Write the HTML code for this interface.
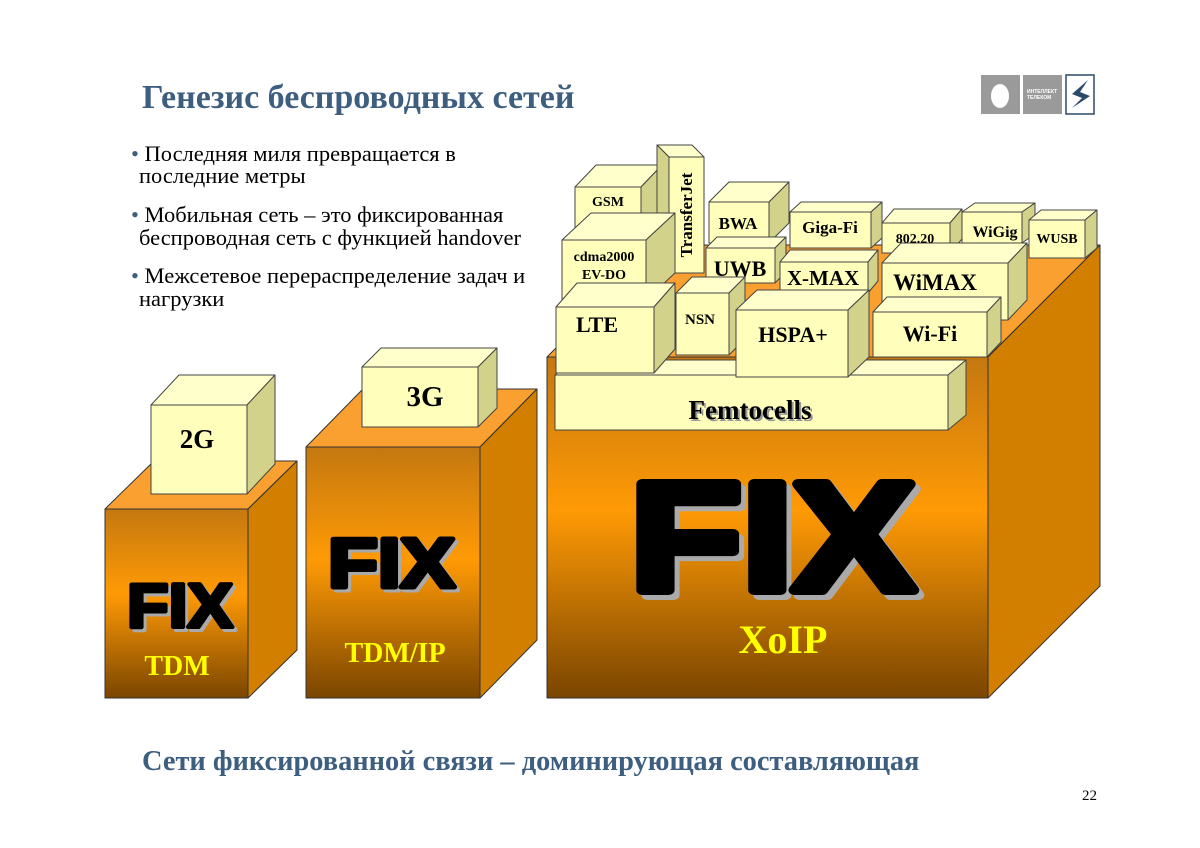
<!DOCTYPE html>
<html><head><meta charset="utf-8"><style>
html,body{margin:0;padding:0;background:#fff}
svg{display:block}
.t{font-family:"Liberation Serif",serif;font-weight:bold;fill:#000}
.fix{font-family:"Liberation Sans",sans-serif;font-weight:bold}
</style></head><body>
<svg width="1200" height="848" viewBox="0 0 1200 848" xmlns="http://www.w3.org/2000/svg">
<defs>
<linearGradient id="og" x1="0" y1="0" x2="0" y2="1">
<stop offset="0" stop-color="#c47810"/><stop offset="0.45" stop-color="#ff9a05"/><stop offset="1" stop-color="#7a4500"/>
</linearGradient>
</defs>
<g stroke="#333" stroke-width="1" stroke-linejoin="round">
<rect x="547" y="357" width="441" height="341" fill="url(#og)"/>
<polygon points="547,357 659,245 1100,245 988,357" fill="#f9a030"/>
<polygon points="988,357 1100,245 1100,586 988,698" fill="#d27f00"/>
<rect x="105" y="509" width="143" height="189" fill="url(#og)"/>
<polygon points="105,509 154,461 297,461 248,509" fill="#f9a030"/>
<polygon points="248,509 297,461 297,650 248,698" fill="#d27f00"/>
<rect x="306" y="447" width="174" height="251" fill="url(#og)"/>
<polygon points="306,447 363,389 537,389 480,447" fill="#f9a030"/>
<polygon points="480,447 537,389 537,640 480,698" fill="#d27f00"/>
</g>
<g stroke="#444" stroke-width="1" stroke-linejoin="round">
<rect x="151" y="405" width="96" height="89" fill="#ffffbb"/>
<polygon points="151,405 179,375 275,375 247,405" fill="#ffffcc"/>
<polygon points="247,405 275,375 275,464 247,494" fill="#d2d28a"/>
<rect x="362" y="367" width="116" height="60" fill="#ffffbb"/>
<polygon points="362,367 381,348 497,348 478,367" fill="#ffffcc"/>
<polygon points="478,367 497,348 497,408 478,427" fill="#d2d28a"/>
<rect x="555" y="375" width="393" height="55" fill="#ffffbb"/>
<polygon points="555,375 573,360 966,360 948,375" fill="#ffffcc"/>
<polygon points="948,375 966,360 966,415 948,430" fill="#d2d28a"/>
<rect x="575" y="187" width="66" height="43" fill="#ffffbb"/>
<polygon points="575,187 596,165 662,165 641,187" fill="#ffffcc"/>
<polygon points="641,187 662,165 662,208 641,230" fill="#d2d28a"/>
<rect x="669" y="157" width="35" height="116" fill="#ffffbb"/>
<polygon points="657,145 692,145 704,157 669,157" fill="#ffffcc"/>
<polygon points="657,145 669,157 669,273 657,261" fill="#d2d28a"/>
<rect x="709" y="202" width="60" height="41" fill="#ffffbb"/>
<polygon points="709,202 729,182 789,182 769,202" fill="#ffffcc"/>
<polygon points="769,202 789,182 789,223 769,243" fill="#d2d28a"/>
<rect x="790" y="212" width="81" height="36" fill="#ffffbb"/>
<polygon points="790,212 801,202 882,202 871,212" fill="#ffffcc"/>
<polygon points="871,212 882,202 882,238 871,248" fill="#d2d28a"/>
<rect x="882" y="223" width="68" height="30" fill="#ffffbb"/>
<polygon points="882,223 894,209 962,209 950,223" fill="#ffffcc"/>
<polygon points="950,223 962,209 962,239 950,253" fill="#d2d28a"/>
<rect x="962" y="212" width="60" height="31" fill="#ffffbb"/>
<polygon points="962,212 975,203 1035,203 1022,212" fill="#ffffcc"/>
<polygon points="1022,212 1035,203 1035,234 1022,243" fill="#d2d28a"/>
<rect x="1029" y="220" width="56" height="38" fill="#ffffbb"/>
<polygon points="1029,220 1041,210 1097,210 1085,220" fill="#ffffcc"/>
<polygon points="1085,220 1097,210 1097,248 1085,258" fill="#d2d28a"/>
<rect x="562" y="240" width="84" height="60" fill="#ffffbb"/>
<polygon points="562,240 591,213 675,213 646,240" fill="#ffffcc"/>
<polygon points="646,240 675,213 675,273 646,300" fill="#d2d28a"/>
<rect x="706" y="248" width="69" height="35" fill="#ffffbb"/>
<polygon points="706,248 717,237 786,237 775,248" fill="#ffffcc"/>
<polygon points="775,248 786,237 786,272 775,283" fill="#d2d28a"/>
<rect x="780" y="262" width="88" height="31" fill="#ffffbb"/>
<polygon points="780,262 790,250 878,250 868,262" fill="#ffffcc"/>
<polygon points="868,262 878,250 878,281 868,293" fill="#d2d28a"/>
<rect x="882" y="263" width="126" height="57" fill="#ffffbb"/>
<polygon points="882,263 901,243 1027,243 1008,263" fill="#ffffcc"/>
<polygon points="1008,263 1027,243 1027,300 1008,320" fill="#d2d28a"/>
<rect x="676" y="293" width="53" height="62" fill="#ffffbb"/>
<polygon points="676,293 692,277 745,277 729,293" fill="#ffffcc"/>
<polygon points="729,293 745,277 745,339 729,355" fill="#d2d28a"/>
<rect x="556" y="307" width="98" height="66" fill="#ffffbb"/>
<polygon points="556,307 577,283 675,283 654,307" fill="#ffffcc"/>
<polygon points="654,307 675,283 675,349 654,373" fill="#d2d28a"/>
<rect x="736" y="310" width="112" height="67" fill="#ffffbb"/>
<polygon points="736,310 757,290 869,290 848,310" fill="#ffffcc"/>
<polygon points="848,310 869,290 869,357 848,377" fill="#d2d28a"/>
<rect x="873" y="312" width="114" height="45" fill="#ffffbb"/>
<polygon points="873,312 887,297 1001,297 987,312" fill="#ffffcc"/>
<polygon points="987,312 1001,297 1001,342 987,357" fill="#d2d28a"/>
</g>
<g class="t" text-anchor="middle">
<text x="608" y="206" font-size="14">GSM</text>
<text transform="translate(692,215) rotate(-90)" font-size="17">TransferJet</text>
<text x="738" y="229" font-size="17">BWA</text>
<text x="830" y="233" font-size="17">Giga-Fi</text>
<text x="915" y="243" font-size="14">802.20</text>
<text x="995" y="237" font-size="16">WiGig</text>
<text x="1057" y="243" font-size="14">WUSB</text>
<text x="604" y="261" font-size="14">cdma2000</text>
<text x="604" y="279" font-size="14">EV-DO</text>
<text x="740" y="276" font-size="22">UWB</text>
<text x="823" y="285" font-size="21">X-MAX</text>
<text x="935" y="290" font-size="23">WiMAX</text>
<text x="700" y="324" font-size="15">NSN</text>
<text x="597" y="332" font-size="22">LTE</text>
<text x="793" y="342" font-size="22">HSPA+</text>
<text x="930" y="341" font-size="22">Wi-Fi</text>
<text x="752" y="421" font-size="27" fill="#999">Femtocells</text>
<text x="750" y="419" font-size="27">Femtocells</text>
<text x="197" y="448" font-size="27">2G</text>
<text x="425" y="406" font-size="29">3G</text>
</g>
<g class="fix" stroke-linejoin="round">
<text x="130" y="630" font-size="62" fill="#aaa" stroke="#aaa" stroke-width="4" textLength="106" lengthAdjust="spacingAndGlyphs">FIX</text>
<text x="127" y="627" font-size="62" fill="#000" stroke="#000" stroke-width="4" textLength="106" lengthAdjust="spacingAndGlyphs">FIX</text>
<text x="331" y="590" font-size="70" fill="#aaa" stroke="#aaa" stroke-width="5" textLength="127" lengthAdjust="spacingAndGlyphs">FIX</text>
<text x="328" y="587" font-size="70" fill="#000" stroke="#000" stroke-width="5" textLength="127" lengthAdjust="spacingAndGlyphs">FIX</text>
<text x="635" y="595" font-size="154" fill="#aaa" stroke="#aaa" stroke-width="10" textLength="285" lengthAdjust="spacingAndGlyphs">FIX</text>
<text x="630" y="590" font-size="154" fill="#000" stroke="#000" stroke-width="10" textLength="285" lengthAdjust="spacingAndGlyphs">FIX</text>
</g>
<g class="t" text-anchor="middle">
<text x="177" y="675" font-size="28" fill="#ffff00">TDM</text>
<text x="395" y="662" font-size="28" fill="#ffff00">TDM/IP</text>
<text x="783" y="653" font-size="40" fill="#ffff00">XoIP</text>
</g>
<text x="142" y="108" font-family="Liberation Serif,serif" font-weight="bold" font-size="34" fill="#3e5e80">Генезис беспроводных сетей</text>
<g font-family="Liberation Serif,serif" font-size="22.5" fill="#000">
<text x="131" y="161"><tspan fill="#3e5e80">•</tspan> Последняя миля превращается в</text>
<text x="139" y="183">последние метры</text>
<text x="131" y="222"><tspan fill="#3e5e80">•</tspan> Мобильная сеть – это фиксированная</text>
<text x="139" y="245">беспроводная сеть с функцией handover</text>
<text x="131" y="283"><tspan fill="#3e5e80">•</tspan> Межсетевое перераспределение задач и</text>
<text x="139" y="306">нагрузки</text>
</g>
<text x="142" y="770" font-family="Liberation Serif,serif" font-weight="bold" font-size="28.4" fill="#3e5e80">Сети фиксированной связи – доминирующая составляющая</text>
<text x="1082" y="800" font-family="Liberation Serif,serif" font-size="15" fill="#000">22</text>
<rect x="981" y="75" width="39" height="39" fill="#9a9a9a"/>
<ellipse cx="1000" cy="96" rx="9" ry="12" fill="#fff"/>
<rect x="1023" y="75" width="39" height="39" fill="#9a9a9a"/>
<text x="1027" y="93" font-family="Liberation Sans,sans-serif" font-size="5" font-weight="bold" fill="#fff">ИНТЕЛЛЕКТ</text>
<text x="1027" y="99" font-family="Liberation Sans,sans-serif" font-size="5" font-weight="bold" fill="#fff">ТЕЛЕКОМ</text>
<rect x="1066" y="75" width="28" height="39" fill="#fff" stroke="#2a4a6a" stroke-width="1.5"/>
<path d="M1088,80 L1072,94 L1082,98 L1072,108 L1090,96 L1080,92 Z" fill="#2a4a6a"/>
</svg>
</body></html>
